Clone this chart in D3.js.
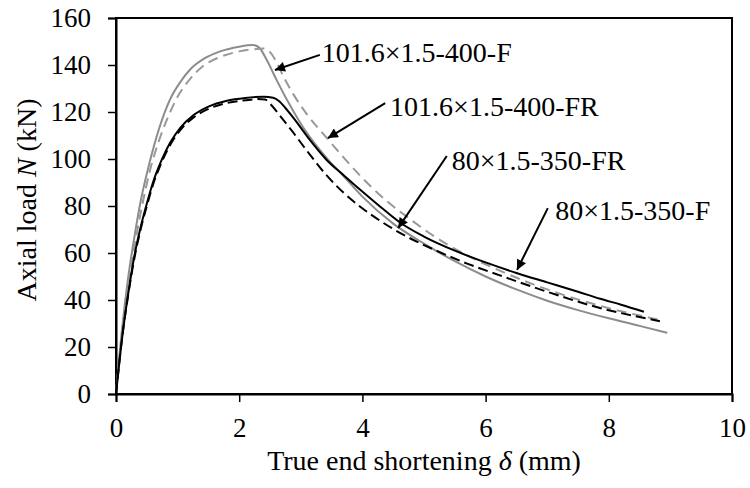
<!DOCTYPE html>
<html>
<head>
<meta charset="UTF-8">
<title>Axial load vs end shortening</title>
<script src="https://d3js.org/d3.v7.min.js"></script>
<style>
  body {margin: 0; background: #fff;}
  text {font-family: "Liberation Serif", "Times New Roman", serif; fill: #000;}
  .axis path, .axis line {stroke: #000;}
</style>
</head>
<body>
<div id="chart"></div>
<script>
// data: [end shortening (mm), axial load (kN)]
var tube101F = [[0,0],[0.1,28],[0.2,50],[0.3,67],[0.4,82],[0.55,99],[0.7,113],[0.88,125.5],[1.05,133],[1.2,138],[1.45,143],[1.69,145.8],[2.0,147.8],[2.22,148.5],[2.32,147.5],[2.45,142],[2.6,134],[2.8,124],[3.0,115],[3.2,107.5],[3.45,99.5],[3.7,92.5],[4.0,84],[4.5,72.5],[5.0,64],[5.5,56.5],[6.0,50],[6.5,44.5],[7.0,39.7],[7.5,35.7],[8.0,32.2],[8.5,29],[8.95,26]];
var tube101FR = [[0,0],[0.1,26],[0.2,47],[0.3,63],[0.4,77],[0.55,95],[0.7,108],[0.88,120],[1.0,126.5],[1.2,134],[1.41,139.5],[1.7,143.5],[2.0,145.8],[2.2,146.6],[2.4,147],[2.5,145.5],[2.6,141.5],[2.72,135],[2.88,127.5],[3.1,119],[3.42,109],[3.7,100.5],[3.96,93],[4.4,82],[4.77,74.5],[5.2,66.5],[5.7,59],[6.23,52.5],[7.0,44.5],[7.86,37.5],[8.83,31.5]];
var tube80F = [[0,0],[0.1,24],[0.2,43],[0.3,59],[0.4,71],[0.5,81],[0.6,90],[0.74,99.5],[0.88,107],[1.05,113.5],[1.25,118.5],[1.5,122.3],[1.8,124.8],[2.1,126],[2.4,126.5],[2.55,126.1],[2.65,124.6],[2.75,121.7],[2.88,117.5],[3.15,108],[3.42,99.6],[3.7,93],[3.96,87],[4.3,79.5],[4.61,73],[5.0,67],[5.5,61],[6.0,56],[6.5,51.5],[7.0,47.5],[7.5,43.5],[7.86,40.5],[8.2,38],[8.57,35]];
var tube80FR = [[0,0],[0.1,24],[0.2,42.5],[0.3,58],[0.4,70],[0.5,80],[0.6,89],[0.74,98.5],[0.88,106],[1.05,112.5],[1.25,117.5],[1.5,121.3],[1.8,123.8],[2.1,125],[2.3,125.5],[2.42,125.3],[2.52,123],[2.66,118.5],[2.87,111.5],[3.1,103.5],[3.42,93],[3.7,85.5],[3.96,79.8],[4.3,73.5],[4.72,67],[5.2,61],[5.7,55.5],[6.23,50.5],[7.0,43.5],[7.8,37],[8.83,31]];

var xTicks = [0, 2, 4, 6, 8, 10];
var yTicks = [0, 20, 40, 60, 80, 100, 120, 140, 160];

// label text, text anchor point, arrow start, arrow tip (data units)
var labels = [
  {text: "101.6×1.5-400-F",  at: [3.34, 141.3], from: [3.31, 144.3], to: [2.58, 137.9]},
  {text: "101.6×1.5-400-FR", at: [4.45, 118.3], from: [4.37, 123.8], to: [3.44, 108.9]},
  {text: "80×1.5-350-FR",    at: [5.45, 95.3],  from: [5.37, 101.3], to: [4.58, 70.6]},
  {text: "80×1.5-350-F",     at: [7.13, 74],    from: [7.01, 79.1],  to: [6.51, 52.8]}
];

var series = [
  {data: tube101F,  color: "#8c8c8c", dash: null},
  {data: tube101FR, color: "#999999", dash: "10,6"},
  {data: tube80F,   color: "#000000", dash: null},
  {data: tube80FR,  color: "#000000", dash: "10,5"}
];

var margin = {top: 18, right: 18, bottom: 94, left: 116},
    width = 750 - margin.left - margin.right,
    height = 488 - margin.top - margin.bottom;

var svg = d3.select("#chart").append("svg")
    .attr("width", 750)
    .attr("height", 488);

var defs = svg.append("defs");
defs.append("marker")
    .attr("id", "arrow")
    .attr("viewBox", "0 0 10 10")
    .attr("refX", 10).attr("refY", 5)
    .attr("markerWidth", 13).attr("markerHeight", 10)
    .attr("markerUnits", "userSpaceOnUse")
    .attr("orient", "auto")
  .append("path")
    .attr("d", "M0,0L10,5L0,10z")
    .attr("fill", "#000");

var g = svg.append("g")
    .attr("transform", "translate(" + margin.left + "," + margin.top + ")");

var x = d3.scaleLinear().domain([0, 10]).range([0, width]);
var y = d3.scaleLinear().domain([0, 160]).range([height, 0]);

// frame
g.append("rect")
    .attr("width", width).attr("height", height)
    .attr("fill", "none").attr("stroke", "#000").attr("stroke-width", 2);

var xAxis = g.append("g").attr("class", "axis")
    .attr("transform", "translate(0," + height + ")")
    .call(d3.axisBottom(x).tickValues(xTicks).tickSize(8).tickPadding(16));
var yAxis = g.append("g").attr("class", "axis")
    .call(d3.axisLeft(y).tickValues(yTicks).tickSize(8).tickPadding(17));

[xAxis, yAxis].forEach(function(a) {
  a.select(".domain").attr("stroke-width", 2);
  a.selectAll(".tick line").attr("stroke-width", 1.5);
  a.selectAll("text").attr("font-size", 27).attr("font-family", "Liberation Serif");
});

var line = d3.line()
    .x(function(d) { return x(d[0]); })
    .y(function(d) { return y(d[1]); })
    .curve(d3.curveMonotoneX);

g.selectAll(".curve")
    .data(series)
  .enter().append("path")
    .attr("class", "curve")
    .attr("d", function(d) { return line(d.data); })
    .attr("fill", "none")
    .attr("stroke", function(d) { return d.color; })
    .attr("stroke-width", 2)
    .attr("stroke-dasharray", function(d) { return d.dash; });

// labels with arrows
g.selectAll(".lead")
    .data(labels)
  .enter().append("line")
    .attr("class", "lead")
    .attr("x1", function(d) { return x(d.from[0]); })
    .attr("y1", function(d) { return y(d.from[1]); })
    .attr("x2", function(d) { return x(d.to[0]); })
    .attr("y2", function(d) { return y(d.to[1]); })
    .attr("stroke", "#000")
    .attr("stroke-width", 2)
    .attr("marker-end", "url(#arrow)");

g.selectAll(".lbl")
    .data(labels)
  .enter().append("text")
    .attr("class", "lbl")
    .attr("x", function(d) { return x(d.at[0]); })
    .attr("y", function(d) { return y(d.at[1]); })
    .attr("font-size", 28)
    .text(function(d) { return d.text; });

// axis titles
g.append("text")
    .attr("x", width / 2)
    .attr("y", height + 76)
    .attr("text-anchor", "middle")
    .attr("font-size", 28)
    .html('True end shortening <tspan font-style="italic">δ</tspan> (mm)');

g.append("text")
    .attr("transform", "translate(" + (-80) + "," + (height / 2 - 6) + ") rotate(-90)")
    .attr("text-anchor", "middle")
    .attr("font-size", 28)
    .html('Axial load <tspan font-style="italic">N</tspan> (kN)');
</script>
</body>
</html>
